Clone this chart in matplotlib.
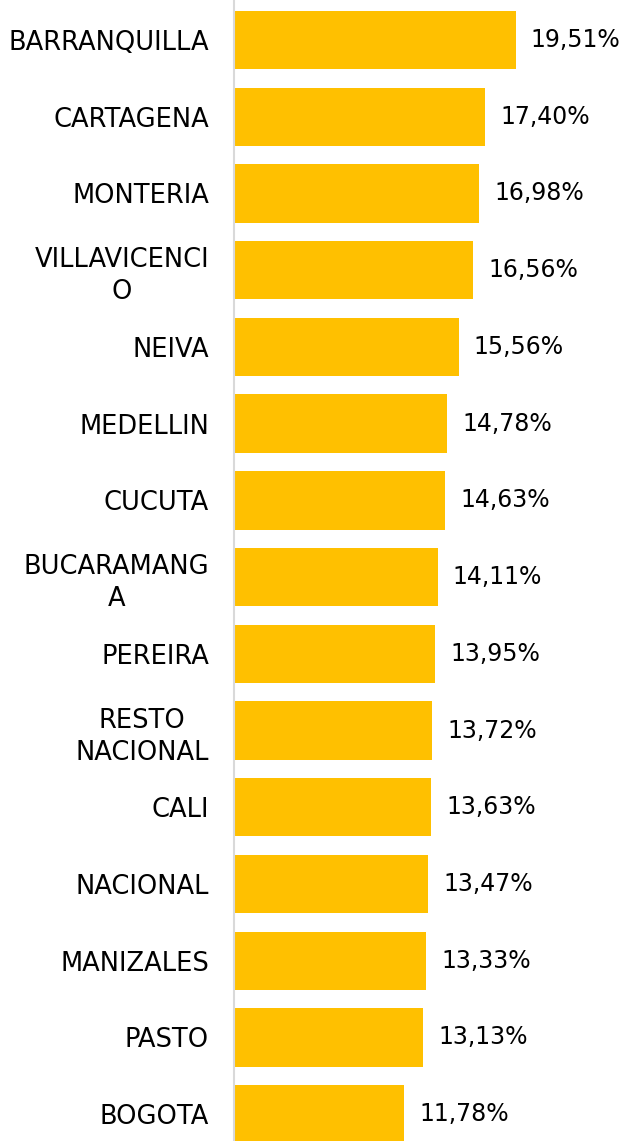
import matplotlib
matplotlib.use("Agg")
import matplotlib.pyplot as plt
import numpy as np

categories = ["BARRANQUILLA", "CARTAGENA", "MONTERIA", "VILLAVICENCI\nO", "NEIVA",
              "MEDELLIN", "CUCUTA", "BUCARAMANG\nA", "PEREIRA", "RESTO\nNACIONAL",
              "CALI", "NACIONAL", "MANIZALES", "PASTO", "BOGOTA"]
values = [19.51, 17.40, 16.98, 16.56, 15.56, 14.78, 14.63, 14.11, 13.95, 13.72,
          13.63, 13.47, 13.33, 13.13, 11.78]

W, H = 623, 1141
fig = plt.figure(figsize=(W / 100, H / 100), dpi=100)
ax = fig.add_axes([234 / W, 0, 1 - 234 / W, 1])

y = np.arange(len(categories))
bars = ax.barh(y, values, height=0.76, color="#FFC000", zorder=2)

ax.set_xlim(0, 389 / 14.43)
ax.set_ylim(14.349, -0.521)

for s in ["top", "right", "bottom"]:
    ax.spines[s].set_visible(False)
ax.spines["left"].set_color("#D9D9D9")
ax.spines["left"].set_linewidth(1.5)
ax.set_xticks([])
ax.set_yticks(y)
ax.set_yticklabels(categories, fontsize=18.5, color="#000000", family="DejaVu Sans",
                   multialignment="center", linespacing=1.3)
ax.tick_params(axis="y", length=0, pad=18)

labels = [f"{v:.2f}%".replace(".", ",") for v in values]
ax.bar_label(bars, labels=labels, padding=11, fontsize=17, color="#000000",
             family="DejaVu Sans")

fig.savefig("out.png", dpi=100)
